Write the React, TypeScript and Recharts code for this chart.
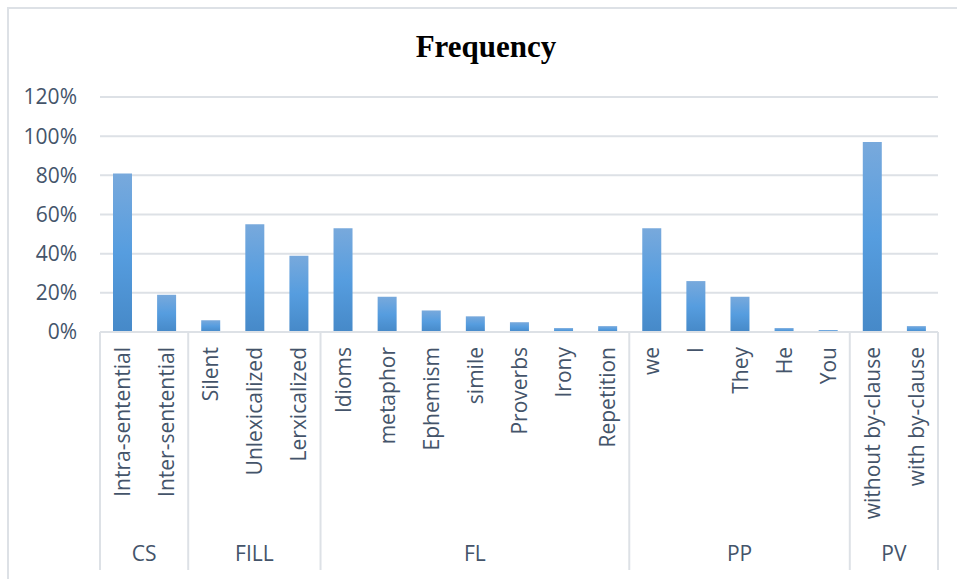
import { Bar, BarChart, CartesianGrid, XAxis, YAxis } from "recharts";

// Sub-categories along the axis, grouped under the outer labels below
const categories = [
  "Intra-sentential", "Inter-sentential",
  "Silent", "Unlexicalized", "Lerxicalized",
  "Idioms", "metaphor", "Ephemism", "simile", "Proverbs", "Irony", "Repetition",
  "we", "I", "They", "He", "You",
  "without by-clause", "with by-clause",
];
const groupNames = ["CS", "FILL", "FL", "PP", "PV"];
const groupSizes = [2, 3, 7, 5, 2];
// Frequency in percent
const frequency = [81, 19, 6, 55, 39, 53, 18, 11, 8, 5, 2, 3, 53, 26, 18, 2, 1, 97, 3];
const yTicks = [0, 20, 40, 60, 80, 100, 120];

const W = 957;
const H = 579;
const LINE = "#dde1e6";
const TEXT = "#44546A";
const FONT = "'Open Sans', 'Noto Sans', sans-serif";
const FS = 21;

// index of first category of each group
const groupStarts = groupSizes.map((_, i) =>
  groupSizes.slice(0, i).reduce((a, b) => a + b, 0)
);

const rows = categories.map((name, i) => ({ name, value: frequency[i] }));

function MultiLevelTick(props: any) {
  const { x, y, index, payload, width, visibleTicksCount } = props;
  const half = payload?.offset ?? width / visibleTicksCount / 2;
  const g = groupStarts.indexOf(index);
  const isLast = index === categories.length - 1;
  const bottom = y + 238;
  return (
    <g>
      <text
        x={x}
        y={y + 15}
        transform={`rotate(-90, ${x}, ${y + 15})`}
        textAnchor="end"
        dominantBaseline="central"
        fill={TEXT}
        fontSize={FS}
        fontFamily={FONT}
      >
        {payload.value}
      </text>
      {g >= 0 && (
        <>
          <line x1={x - half} x2={x - half} y1={y} y2={bottom} stroke={LINE} strokeWidth={2} />
          <text
            x={x - half + groupSizes[g] * half}
            y={y + 229}
            textAnchor="middle"
            fill={TEXT}
            fontSize={FS}
            fontFamily={FONT}
          >
            {groupNames[g]}
          </text>
        </>
      )}
      {isLast && (
        <line x1={x + half} x2={x + half} y1={y} y2={bottom} stroke={LINE} strokeWidth={2} />
      )}
    </g>
  );
}

export default function App() {
  return (
    <div style={{ position: "absolute", left: 0, top: 0, width: W, height: H, background: "#fff" }}>
      <div
        style={{
          position: "absolute",
          left: 7,
          top: 7,
          width: W - 7,
          height: H - 7,
          borderLeft: `2px solid ${LINE}`,
          borderTop: `2px solid ${LINE}`,
          boxSizing: "border-box",
        }}
      />
      <svg width={W} height={80} style={{ position: "absolute", left: 0, top: 0 }}>
        <text
          x={486}
          y={57}
          textAnchor="middle"
          fontFamily="'Liberation Serif', 'Times New Roman', serif"
          fontWeight="bold"
          fontSize={31}
          fill="#000"
        >
          Frequency
        </text>
      </svg>
      <div style={{ position: "absolute", left: 0, top: 0 }}>
        <BarChart
          width={W}
          height={H}
          data={rows}
          margin={{ top: 97, right: 19, bottom: 0, left: 0 }}
        >
          <defs>
            <linearGradient id="barFill" x1="0" y1="0" x2="0" y2="1">
              <stop offset="0%" stopColor="#78a9dc" />
              <stop offset="50%" stopColor="#569ddf" />
              <stop offset="100%" stopColor="#4689c8" />
            </linearGradient>
          </defs>
          <CartesianGrid vertical={false} stroke={LINE} strokeWidth={2} />
          <XAxis
            dataKey="name"
            interval={0}
            height={247}
            tickLine={false}
            tickSize={0}
            tickMargin={0}
            axisLine={{ stroke: LINE, strokeWidth: 2 }}
            tick={(p: any) => <MultiLevelTick {...p} />}
          />
          <YAxis
            width={100}
            domain={[0, 120]}
            ticks={yTicks}
            interval={0}
            axisLine={false}
            tickLine={false}
            tickSize={0}
            tickMargin={23}
            tickFormatter={(v: number) => `${v}%`}
            tick={{ fill: TEXT, fontSize: FS, fontFamily: FONT }}
          />
          <Bar dataKey="value" fill="url(#barFill)" barSize={19} isAnimationActive={false} />
        </BarChart>
      </div>
    </div>
  );
}
